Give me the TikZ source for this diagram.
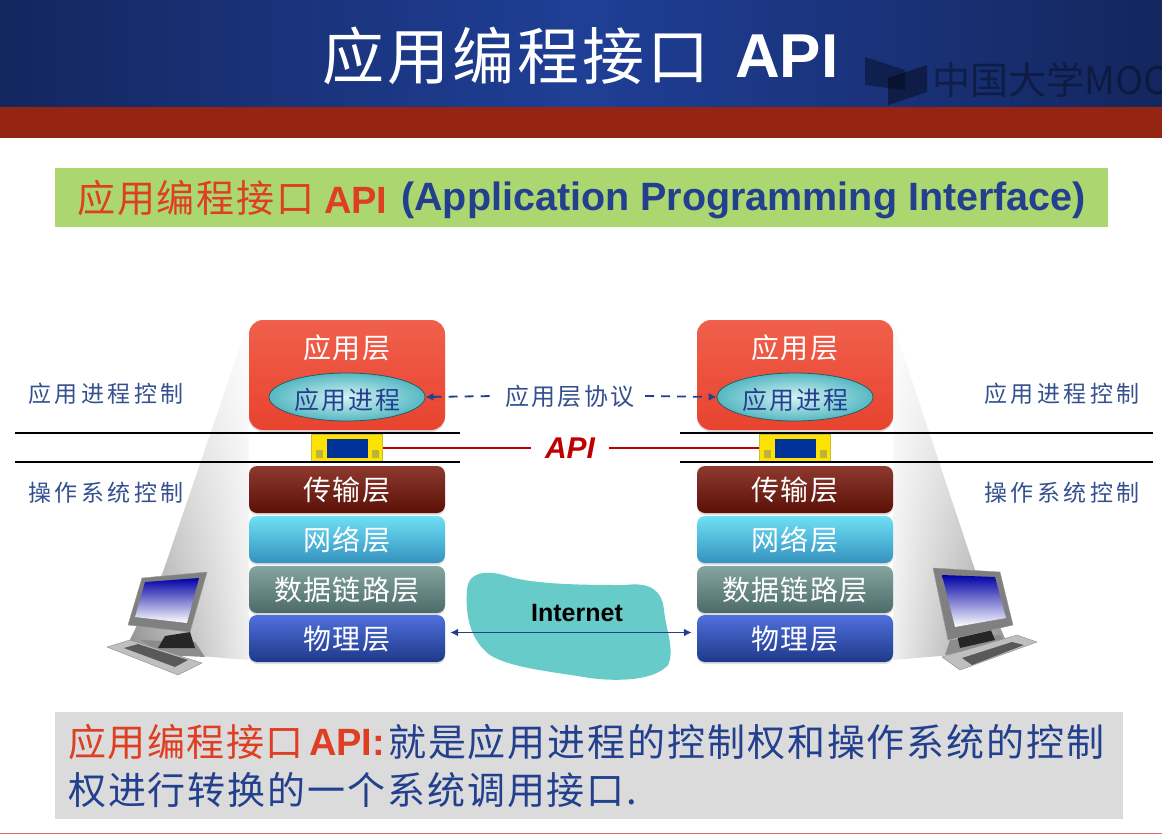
\documentclass[tikz,border=0pt]{standalone}
\usepackage{fontspec}
\usetikzlibrary{shapes.geometric,arrows.meta,shadows,fadings}
\setmainfont{Liberation Sans}
\newfontfamily\cjk{Noto Sans CJK SC}
\newfontfamily\lat{Liberation Sans}
\newcommand\cf[2]{\fontsize{#1}{#1}\selectfont\cjk\addfontfeature{LetterSpace=#2}}
\newcommand\cfb[2]{\fontsize{#1}{#1}\selectfont\cjk\bfseries\addfontfeature{LetterSpace=#2}}
\newcommand\lf[1]{\fontsize{#1}{#1}\selectfont\lat\bfseries}
\definecolor{blueT}{HTML}{23408F}
\definecolor{redT}{HTML}{DE3F22}
\definecolor{labelT}{HTML}{34508F}
\definecolor{hdEdge}{HTML}{14265E}
\definecolor{hdMid}{HTML}{1F3F96}
\definecolor{hdRed}{HTML}{952412}
\definecolor{bannerG}{HTML}{ABD670}
\definecolor{appTop}{HTML}{F0604C}
\definecolor{appMid}{HTML}{E8432F}
\definecolor{trTop}{HTML}{8E3A30}
\definecolor{trMid}{HTML}{6E1408}
\definecolor{nwTop}{HTML}{6FE0F5}
\definecolor{nwMid}{HTML}{3FB2E8}
\definecolor{dlTop}{HTML}{85A5A0}
\definecolor{dlMid}{HTML}{5C8280}
\definecolor{phTop}{HTML}{5070DC}
\definecolor{phMid}{HTML}{2545A8}
\definecolor{cloudC}{HTML}{67CBC9}
\definecolor{procOut}{HTML}{55B8C2}
\definecolor{procIn}{HTML}{D5F2F4}
\tikzset{
  layer/.style={rounded corners=8pt,minimum width=196pt,inner sep=0pt,text=white,font=\cf{28}{4},
    drop shadow={shadow xshift=0pt,shadow yshift=-2pt,opacity=.25}},
  applayer/.style={layer,rounded corners=14pt,minimum height=110pt,top color=appTop,middle color=appMid,bottom color=appMid},
  stack/.style 2 args={layer,minimum height=47pt,top color=#1,middle color=#2,bottom color=#2!82!black},
  side/.style={inner sep=0pt,text=labelT,font=\cf{23}{15}},
  proc/.style={ellipse,draw=black!50!procOut,line width=.8pt,minimum width=156pt,minimum height=48pt,inner sep=0pt,
    inner color=procIn,outer color=procOut,text=blueT,font=\cf{25}{8}},
  rule/.style={line width=1.5pt,black},
  apibox/.style={draw=yellow!75!black,fill=yellow!85!orange,line width=.8pt,minimum width=71pt,minimum height=27pt,inner sep=0pt},
  apiin/.style={fill=blue!50!black!80!cyan,minimum width=41pt,minimum height=19pt,inner sep=0pt},
  apidot/.style={fill=yellow!70!black,minimum width=7pt,minimum height=8pt,inner sep=0pt},
  redline/.style={line width=1.4pt,red!75!black},
  blueline/.style={line width=1.6pt,blueT,{Latex[length=8pt,width=8pt]}-{Latex[length=8pt,width=8pt]}},
  dashline/.style={line width=1.8pt,blueT,dash pattern=on 9pt off 7pt}
}
\begin{document}
\begin{tikzpicture}[x=1pt,y=-1pt]
\useasboundingbox (0,0) rectangle (1162,836);
\fill[white] (0,0) rectangle (1162,836);
% header
\shade[left color=hdEdge,right color=hdMid] (0,0) rectangle (580,107);
\shade[left color=hdMid,right color=hdEdge] (580,0) rectangle (1162,107);
\fill[hdRed] (0,107) rectangle (1162,138);
\fill[black,opacity=.35] (865,57) -- (905,70) -- (905,90) -- (865,85) -- cycle;
\fill[black,opacity=.4] (888,105) -- (888,78) -- (927,65) -- (927,92) -- cycle;
\node[anchor=west,inner sep=0pt,text=black,opacity=.35,font=\cf{38}{0}] (wm) at (932,80) {中国大学MOOC};
\node[anchor=west,inner sep=0pt,text=white,font=\cf{62}{5}] (t1) at (322,56) {应用编程接口};
\node[anchor=west,inner sep=0pt,text=white,font=\lf{62}] (t2) at (735,56) {API};
% banner
\fill[bannerG] (55,168) rectangle (1108,227);
\node[anchor=west,inner sep=0pt,text=redT,font=\cf{38}{5}] (b1) at (77,198) {应用编程接口};
\node[anchor=west,inner sep=0pt,text=redT,font=\lf{38}] (b2) at (324,200) {API};
\node[anchor=west,inner sep=0pt,text=blueT,font=\lf{39.5}] (b3) at (401,200) {(Application Programming Interface)};
% funnels
\shade[left color=black!45,right color=black!6] (248,325) -- (163,572) -- (125,650) -- (249,660) -- cycle;
\fill[white,opacity=.85,path fading=south] (248,325) -- (163,572) -- (125,650) -- (249,660) -- cycle;
\shade[right color=black!45,left color=black!6] (893,325) -- (975,570) -- (1010,650) -- (893,660) -- cycle;
\fill[white,opacity=.85,path fading=south] (893,325) -- (975,570) -- (1010,650) -- (893,660) -- cycle;
% stacks
\foreach \s/\x in {L/347,R/795}{
  \node[applayer] (app\s) at (\x,375) {};
  \node[stack={trTop}{trMid}] (tr\s) at (\x,489.5) {传输层};
  \node[stack={nwTop}{nwMid}] (nw\s) at (\x,539.5) {网络层};
  \node[stack={dlTop}{dlMid}] (dl\s) at (\x,589.5) {数据链路层};
  \node[stack={phTop}{phMid}] (ph\s) at (\x,638.5) {物理层};
  \node[inner sep=0pt,text=white,font=\cf{28}{4}] (al\s) at (\x,348) {应用层};
  \node[proc] (pr\s) at (\x,397) {};
  \node[inner sep=0pt,text=blueT,font=\cf{25}{8}] (pt\s) at (\x,400) {应用进程};
  \node[apibox] (ab\s) at (\x,448) {};
  \node[apiin] at (ab\s.center) (ai\s) {};
  \node[apidot] at ([xshift=-28pt,yshift=-6pt]ab\s.center) (da\s) {};
  \node[apidot] at ([xshift=28pt,yshift=-6pt]ab\s.center) (db\s) {};
}
% horizontal rules
\coordinate (r1a) at (15,433); \coordinate (r1b) at (460,433);
\coordinate (r2a) at (15,462); \coordinate (r2b) at (460,462);
\coordinate (r3a) at (680,433); \coordinate (r3b) at (1153,433);
\coordinate (r4a) at (680,462); \coordinate (r4b) at (1153,462);
\draw[rule] (r1a) -- (r1b); \draw[rule] (r2a) -- (r2b);
\draw[rule] (r3a) -- (r3b); \draw[rule] (r4a) -- (r4b);
% side labels
\node[side,anchor=west] (s1) at (28,394) {应用进程控制};
\node[side,anchor=west] (s2) at (28,493) {操作系统控制};
\node[side,anchor=west] (s3) at (984,394) {应用进程控制};
\node[side,anchor=west] (s4) at (984,493) {操作系统控制};
% protocol
\node[inner sep=0pt,text=labelT,font=\cf{24}{10}] (proto) at (570,396) {应用层协议};
\draw[dashline,{Latex[length=8pt,width=8pt]}-] (prL.east) -- ([xshift=-10pt]proto.west);
\draw[dashline,-{Latex[length=8pt,width=8pt]}] ([xshift=10pt]proto.east) -- (prR.west);
% API
\node[inner sep=0pt,text=red!75!black,font=\lf{30}\itshape] (api) at (570,448) {API};
\coordinate (apiA) at (abL.east -| api.west);
\coordinate (apiB) at (abR.west -| api.east);
\draw[redline] (abL.east) -- ([xshift=-14pt]apiA);
\draw[redline] ([xshift=14pt]apiB) -- (abR.west);
% internet
\fill[cloudC] (467,590) .. controls (468,570) and (490,570) .. (510,577)
  .. controls (540,585) and (590,585) .. (625,585)
  .. controls (650,582) and (662,590) .. (664,610)
  .. controls (666,630) and (675,650) .. (668,665)
  .. controls (655,680) and (620,682) .. (590,678)
  .. controls (555,672) and (510,668) .. (490,655)
  .. controls (470,640) and (465,615) .. (467,590) -- cycle;
\node[inner sep=0pt,text=black,font=\lf{25}] (net) at (577,613) {Internet};
\draw[blueline] ([xshift=5pt,yshift=6pt]phL.east) -- ([xshift=-5pt,yshift=6pt]phR.west);
% left computer
\fill[black!45] (140,640) -- (195,642) -- (205,657) -- (165,655) -- cycle;
\fill[black!85] (165,636) -- (190,632) -- (195,648) -- (158,648) -- cycle;
\fill[black!50,draw=black!40] (142,578) -- (207,572) -- (190,632) -- (128,625) -- cycle;
\shade[shading angle=-40,top color=blue!65!black,bottom color=white] (145,582) -- (199,578) -- (187,623) -- (135,617) -- cycle;
\fill[black!25,draw=black!45] (107,647) -- (130,640) -- (202,663) -- (178,675) -- cycle;
\fill[black!65] (124,648) -- (138,644) -- (188,660) -- (175,667) -- cycle;
% right computer
\fill[black!45] (950,640) -- (1000,635) -- (1005,642) -- (945,655) -- cycle;
\fill[black!85] (957,635) -- (990,628) -- (995,640) -- (960,648) -- cycle;
\fill[black!50,draw=black!40] (933,568) -- (1000,572) -- (1013,625) -- (948,640) -- cycle;
\shade[shading angle=40,top color=blue!65!black,bottom color=white] (942,575) -- (995,577) -- (1006,618) -- (955,627) -- cycle;
\fill[black!25,draw=black!45] (942,657) -- (1017,635) -- (1037,642) -- (960,670) -- cycle;
\fill[black!65] (962,658) -- (1012,642) -- (1024,645) -- (972,665) -- cycle;
% bottom box
\fill[black!14] (55,712) rectangle (1123,819);
\node[anchor=west,inner sep=0pt,text=redT,font=\cf{38}{4}] (c1) at (68,742) {应用编程接口};
\node[anchor=west,inner sep=0pt,text=redT,font=\lf{38}] (c2) at (309,742) {API:};
\node[anchor=west,inner sep=0pt,text=blueT,font=\cf{38}{5}] (c3) at (388,742) {就是应用进程的控制权和操作系统的控制};
\node[anchor=west,inner sep=0pt,text=blueT,font=\cf{38}{5}] (c4) at (68,790) {权进行转换的一个系统调用接口.};
\fill[red!50!white!85!black] (0,832.5) rectangle (1162,834);
\end{tikzpicture}
\end{document}
